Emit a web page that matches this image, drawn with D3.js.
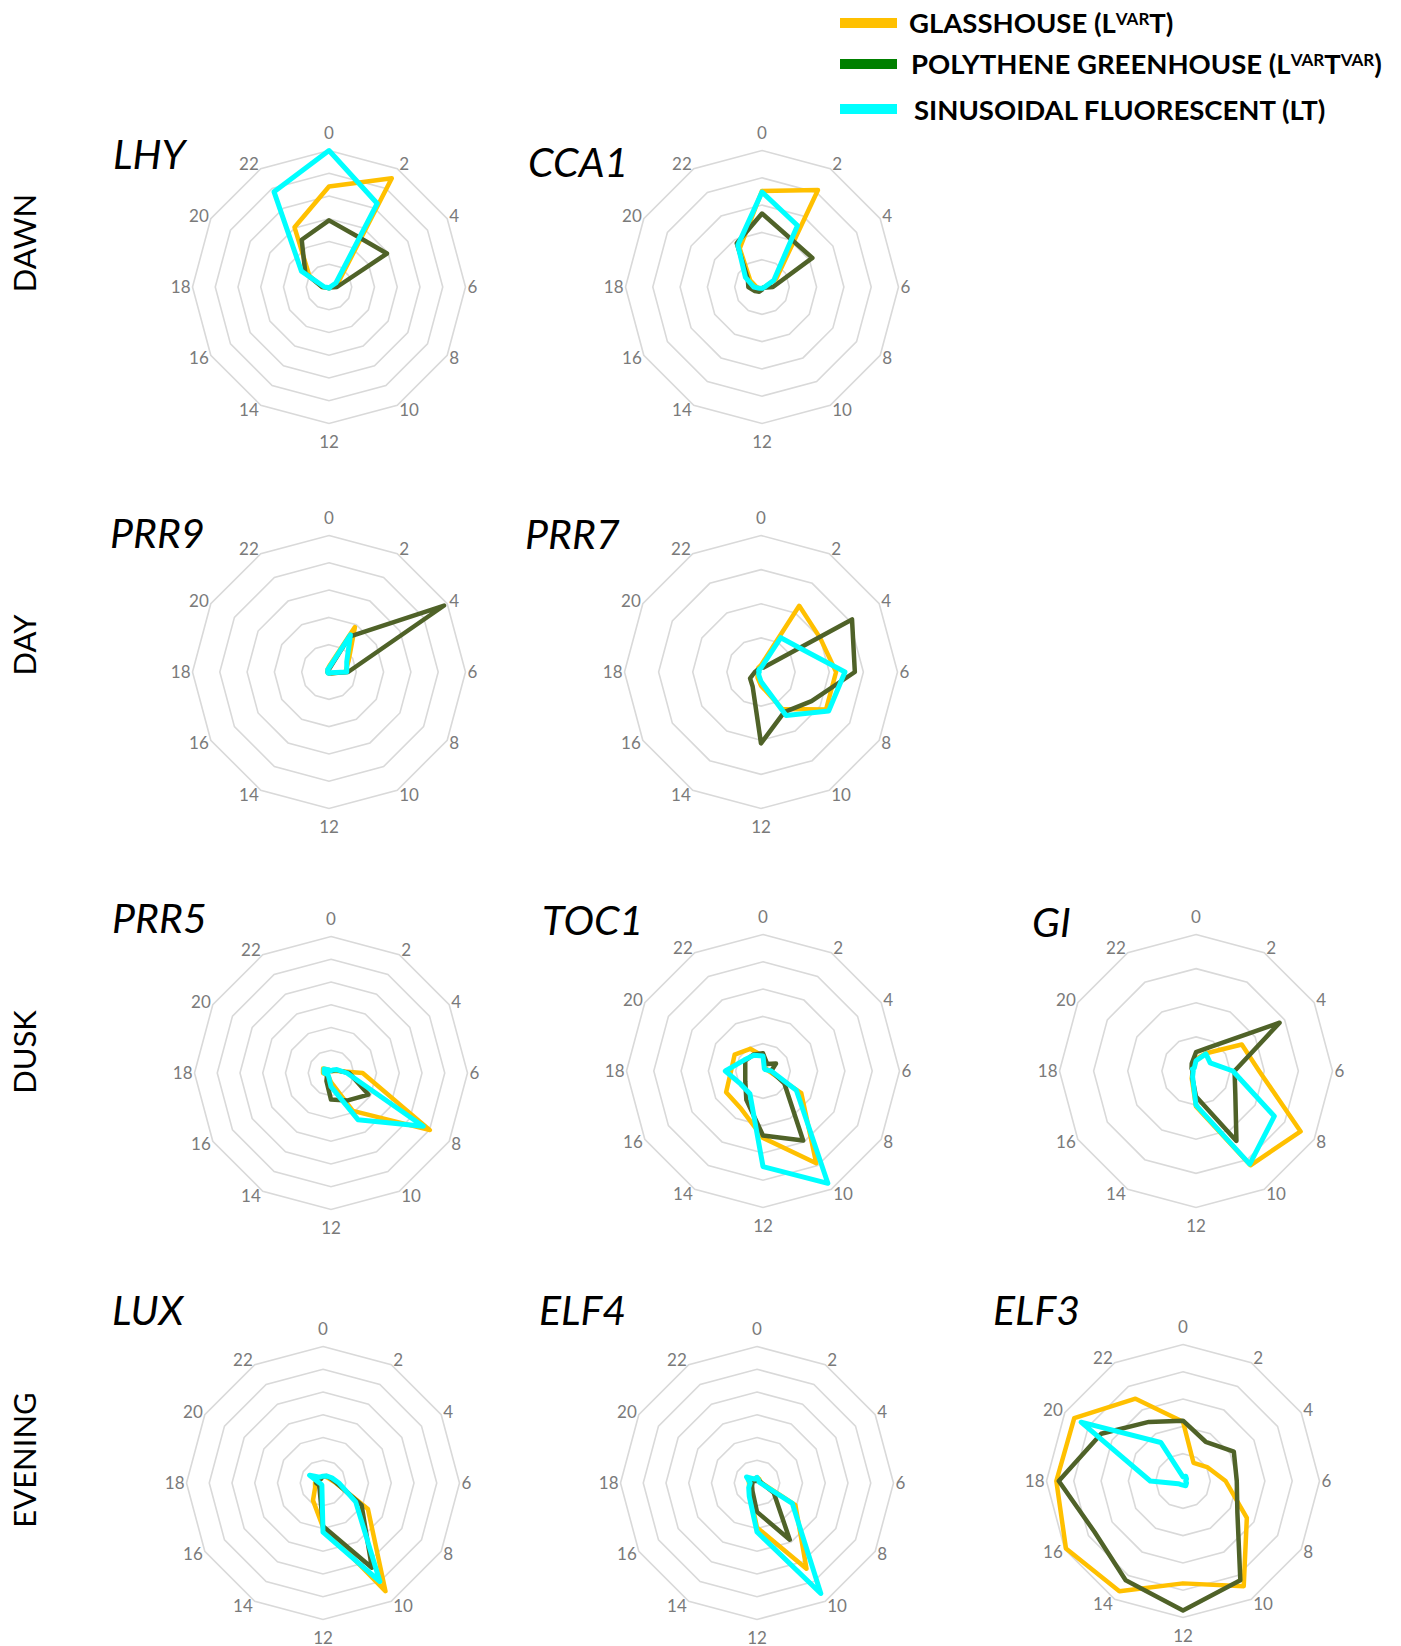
<!DOCTYPE html>
<html>
<head>
<meta charset="utf-8">
<script src="https://cdn.jsdelivr.net/npm/d3@7"></script>
<style>
  body { margin: 0; background: #fff; }
  svg { display: block; font-family: Lato, "Open Sans", sans-serif; }
</style>
</head>
<body>
<svg id="chart" width="1401" height="1646"></svg>
<script>
// hours of the day on each radar (one spoke every 2 h)
const hours = [0, 2, 4, 6, 8, 10, 12, 14, 16, 18, 20, 22];

const genes = ['LHY', 'CCA1', 'PRR9', 'PRR7', 'PRR5', 'TOC1', 'GI', 'LUX', 'ELF4', 'ELF3'];
const phaseGroups = ['DAWN', 'DAY', 'DUSK', 'EVENING'];

// number of grid rings on each radar (axis maximum, in ring units)
const ringCount = [6, 5, 5, 4, 6, 5, 4, 6, 6, 5];

// relative expression, in ring units, one row per gene (same order as genes)
const glasshouse = [
  [4.42, 5.52, 0.5, 0.1, 0.05, 0.05, 0.05, 0.05, 0.05, 0.3, 1.0, 3.03],      // LHY
  [3.52, 4.1, 0.6, 0.1, 0.05, 0.05, 0.05, 0.05, 0.1, 0.2, 0.5, 1.63],        // CCA1
  [0.2, 1.9, 0.83, 0.6, 0.1, 0.05, 0.05, 0.05, 0.05, 0.05, 0.05, 0.1],       // PRR9
  [0.2, 2.24, 2.0, 2.2, 2.2, 1.25, 0.4, 0.2, 0.12, 0.1, 0.12, 0.15],         // PRR7
  [0.1, 0.1, 0.2, 1.39, 5.02, 1.92, 0.4, 0.2, 0.2, 0.35, 0.4, 0.15],         // PRR5
  [0.55, 0.15, 0.15, 0.2, 1.62, 3.9, 2.45, 1.6, 1.56, 1.17, 1.2, 0.94],      // TOC1
  [0.35, 0.6, 1.55, 1.85, 3.54, 3.19, 1.04, 0.25, 0.12, 0.1, 0.12, 0.15],    // GI
  [0.3, 0.3, 0.35, 0.56, 2.28, 5.49, 1.94, 0.88, 0.4, 0.35, 0.3, 0.2],       // LUX
  [0.25, 0.2, 0.15, 0.2, 1.95, 4.35, 1.96, 0.6, 0.4, 0.35, 0.45, 0.2],       // ELF4
  [2.17, 0.77, 1.02, 1.56, 2.7, 4.45, 3.75, 4.66, 4.95, 4.64, 4.6, 3.48]     // ELF3
];

const polythene = [
  [2.93, 2.55, 2.94, 0.35, 0.05, 0.05, 0.05, 0.05, 0.05, 0.3, 1.2, 2.4],
  [2.69, 2.06, 2.13, 0.4, 0.05, 0.05, 0.1, 0.2, 0.3, 0.5, 0.6, 1.85],
  [0.1, 1.5, 4.87, 0.7, 0.1, 0.05, 0.05, 0.05, 0.05, 0.05, 0.05, 0.05],
  [0.12, 0.15, 3.08, 2.75, 1.71, 1.36, 2.09, 0.49, 0.37, 0.18, 0.12, 0.1],
  [0.1, 0.1, 0.25, 0.8, 1.9, 1.4, 1.17, 0.4, 0.2, 0.2, 0.3, 0.1],
  [0.65, 0.3, 0.55, 0.3, 0.9, 2.94, 2.36, 1.22, 0.75, 0.65, 0.75, 0.7],
  [0.55, 0.81, 2.83, 1.13, 1.33, 2.37, 0.75, 0.22, 0.12, 0.1, 0.15, 0.25],
  [0.3, 0.35, 0.4, 0.6, 1.96, 4.3, 1.9, 0.3, 0.2, 0.3, 0.35, 0.2],
  [0.15, 0.15, 0.15, 0.2, 0.85, 2.88, 1.27, 0.4, 0.25, 0.2, 0.2, 0.1],
  [2.21, 1.66, 2.15, 1.97, 2.3, 4.2, 4.74, 4.2, 3.74, 4.55, 3.46, 2.5]
];

const sinusoidal = [
  [6.0, 4.24, 0.35, 0.05, 0.05, 0.05, 0.05, 0.05, 0.05, 0.2, 1.4, 4.83],
  [3.48, 2.6, 0.5, 0.1, 0.05, 0.05, 0.05, 0.05, 0.1, 0.3, 0.7, 1.77],
  [0.15, 1.57, 0.75, 0.65, 0.05, 0.05, 0.05, 0.05, 0.05, 0.05, 0.05, 0.1],
  [0.12, 1.16, 1.36, 2.46, 2.29, 1.47, 0.28, 0.12, 0.08, 0.05, 0.08, 0.1],
  [0.1, 0.15, 0.3, 0.7, 4.68, 2.37, 0.6, 0.2, 0.15, 0.3, 0.35, 0.15],
  [0.55, 0.1, 0.1, 0.3, 1.41, 4.75, 3.5, 0.96, 0.95, 1.38, 0.8, 0.67],
  [0.3, 0.58, 0.48, 1.08, 2.65, 3.15, 1.0, 0.2, 0.1, 0.08, 0.12, 0.1],
  [0.3, 0.35, 0.45, 0.7, 1.66, 5.0, 2.16, 0.1, 0.1, 0.15, 0.68, 0.3],
  [0.25, 0.15, 0.1, 0.15, 1.79, 5.61, 2.15, 0.68, 0.42, 0.3, 0.53, 0.2],
  [0.15, 0.2, 0.15, 0.1, 0.15, 0.2, 0.15, 0.15, 0.2, 1.2, 4.31, 1.63]
];

// series, in drawing order (later ones on top)
const series = [
  { values: glasshouse, color: '#FFC000', width: 4.5 },
  { values: polythene,  color: '#4F6228', width: 4.5 },
  { values: sinusoidal, color: '#00FFFF', width: 5 }
];

// where each radar sits on the page
const layout = [
  { cx: 329, cy: 287, tx: 113, ty: 169 },
  { cx: 762, cy: 287, tx: 528, ty: 177 },
  { cx: 329, cy: 672, tx: 110, ty: 548 },
  { cx: 761, cy: 672, tx: 525, ty: 549 },
  { cx: 331, cy: 1073, tx: 112, ty: 933 },
  { cx: 763, cy: 1071, tx: 542, ty: 935 },
  { cx: 1196, cy: 1071, tx: 1032, ty: 937 },
  { cx: 323, cy: 1483, tx: 112, ty: 1325 },
  { cx: 757, cy: 1483, tx: 539, ty: 1325 },
  { cx: 1183, cy: 1481, tx: 993, ty: 1325 }
];
const groupLabelPos = [243, 645, 1052, 1460];

const R = 136.5;
const svg = d3.select('#chart');
const angle = d3.scaleLinear().domain([0, 24]).range([0, 2 * Math.PI]);

genes.forEach((gene, i) => {
  const pos = layout[i];
  const r = d3.scaleLinear().domain([0, ringCount[i]]).range([0, R]);
  const line = d3.lineRadial()
      .angle((d, j) => angle(hours[j]))
      .radius(d => r(d))
      .curve(d3.curveLinearClosed);

  const g = svg.append('g').attr('transform', `translate(${pos.cx},${pos.cy})`);

  // grid rings
  g.selectAll('path.ring')
      .data(d3.range(1, ringCount[i] + 1).map(v => hours.map(() => v)))
    .enter().append('path')
      .attr('class', 'ring')
      .attr('d', line)
      .attr('fill', 'none')
      .attr('stroke', '#d9d9d9')
      .attr('stroke-width', 1.6);

  // hour labels
  g.selectAll('text.hour')
      .data(hours)
    .enter().append('text')
      .attr('class', 'hour')
      .each(function(h) {
        const a = angle(h), s = Math.sin(a), c = Math.cos(a);
        const vx = R * s, vy = -R * c;
        const t = d3.select(this);
        if (Math.abs(s) < 0.01) {
          t.attr('x', vx).attr('y', vy - c * 18 + 6).attr('text-anchor', 'middle');
        } else {
          t.attr('x', vx + (s > 0 ? 2 : -2)).attr('y', vy - c * 5 + 6)
           .attr('text-anchor', s > 0 ? 'start' : 'end');
        }
      })
      .attr('font-size', 17)
      .attr('fill', '#7a7a7a')
      .text(h => h);

  // data lines
  series.forEach(s => {
    g.append('path')
        .datum(s.values[i])
        .attr('d', line)
        .attr('fill', 'none')
        .attr('stroke', s.color)
        .attr('stroke-width', s.width)
        .attr('stroke-linejoin', 'round');
  });

  // gene name
  svg.append('text')
      .attr('x', pos.tx)
      .attr('y', pos.ty)
      .attr('font-size', 41)
      .attr('font-style', 'italic')
      .attr('fill', '#000')
      .text(gene);
});

// phase labels down the left side
phaseGroups.forEach((p, i) => {
  svg.append('text')
      .attr('transform', `translate(36,${groupLabelPos[i]}) rotate(-90)`)
      .attr('text-anchor', 'middle')
      .attr('font-size', 31)
      .attr('fill', '#000')
      .text(p);
});

// legend
const legendItems = [
  { parts: [['GLASSHOUSE (L', 0], ['VAR', 1], ['T)', 0]], color: '#FFC000', ly: 23, tx: 909, ty: 33 },
  { parts: [['POLYTHENE GREENHOUSE (L', 0], ['VAR', 1], ['T', 0], ['VAR', 1], [')', 0]], color: '#008000', ly: 64, tx: 911, ty: 74 },
  { parts: [['SINUSOIDAL FLUORESCENT (LT)', 0]], color: '#00FFFF', ly: 109, tx: 914, ty: 120 }
];

const legend = svg.append('g').attr('class', 'legend');
legendItems.forEach(item => {
  legend.append('line')
      .attr('x1', 840).attr('x2', 897)
      .attr('y1', item.ly).attr('y2', item.ly)
      .attr('stroke', item.color)
      .attr('stroke-width', 10);
  const t = legend.append('text')
      .attr('x', item.tx).attr('y', item.ty)
      .attr('font-size', 27.5)
      .attr('font-weight', 700)
      .attr('fill', '#000');
  let raised = 0;
  item.parts.forEach(([txt, sup]) => {
    const dy = sup ? -8 - raised : (raised ? 8 : 0);
    raised = sup ? 8 : 0;
    t.append('tspan')
        .attr('dy', dy)
        .attr('font-size', sup ? 17 : 27.5)
        .text(txt);
  });
});
</script>
</body>
</html>
